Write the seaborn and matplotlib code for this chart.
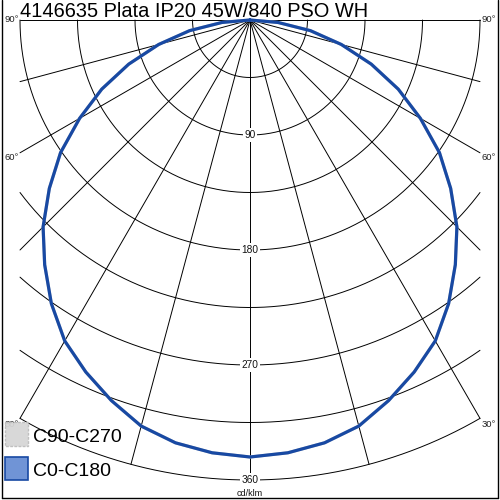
import numpy as np
import pandas as pd
import matplotlib
matplotlib.use("Agg")
import matplotlib.pyplot as plt
import seaborn as sns
from matplotlib.patches import Rectangle

# ---- data -------------------------------------------------------------
title = "4146635 Plata IP20 45W/840 PSO WH"
gamma = [0, 5, 10, 15, 20, 25, 30, 35, 40, 45, 50, 55, 60, 65, 70, 75, 80, 85, 90]
c0_c180 = [342, 340, 336, 329, 317, 304, 290, 271, 250, 229, 205, 181, 154, 128, 101, 74, 48, 22, 0]
c90_c270 = [342, 340, 336, 329, 317, 304, 290, 271, 250, 229, 205, 181, 154, 128, 101, 74, 48, 22, 0]
ring_values = [45, 90, 135, 180, 225, 270, 315, 360]
ring_labels = [90, 180, 270, 360]
radial_angles = [-90, -75, -60, -45, -30, -15, 0, 15, 30, 45, 60, 75, 90]
angle_labels = [30, 60, 90]
series_names = ["C90-C270", "C0-C180"]
unit = "cd/klm"

# ---- layout helpers (pixel -> data) -----------------------------------
S = 460 / 360.0
CX, CY = 250, 20
def X(px): return (px - CX) / S
def Y(py): return (py - CY) / S
XMAX = 180.0  # horizontal clip of the grid

sns.set_theme(style="white")
plt.rcParams["font.family"] = ["Liberation Sans", "DejaVu Sans"]

fig = plt.figure(figsize=(5, 5), dpi=100)
ax = fig.add_axes([0, 0, 1, 1])
ax.set_xlim(X(0), X(500))
ax.set_ylim(Y(500), Y(0))
ax.axis("off")

# rings
for r in ring_values:
    tmax = np.pi / 2 if r <= XMAX else np.arcsin(XMAX / r)
    t = np.linspace(-tmax, tmax, 400)
    ax.plot(r * np.sin(t), r * np.cos(t), color="black", lw=0.7, zorder=1)

# radials
for a in radial_angles:
    ar = np.radians(a)
    s = abs(np.sin(ar))
    L = 360 if s < 1e-9 else min(360, XMAX / s)
    ax.plot([0, L * np.sin(ar)], [0, L * np.cos(ar)], color="black", lw=0.7, zorder=1)

# angle labels
yoff = {90: 0, 60: 5, 30: 6}
for a in angle_labels:
    ar = np.radians(a)
    L = min(360, XMAX / np.sin(ar))
    ey = L * np.cos(ar) + yoff[a] / S
    ax.text(-XMAX - 1.5 / S, ey, f"{a}°", ha="right", va="center", fontsize=6.8, color="#222222", zorder=2)
    ax.text(XMAX + 1.5 / S, ey, f"{a}°", ha="left", va="center", fontsize=6.8, color="#222222", zorder=2)

# ring labels
for r in ring_labels:
    ax.text(0, r, f"{r}", ha="center", va="center", fontsize=7.3, color="#111111",
            bbox=dict(facecolor="white", edgecolor="none", pad=1.2), zorder=3)
ax.text(0, Y(493), unit, ha="center", va="center", fontsize=6.5, color="#111111", zorder=3)

# curves
def curve(vals):
    g = np.array(gamma, float)
    v = np.array(vals, float)
    ang = np.concatenate([-g[::-1], g[1:]])
    inten = np.concatenate([v[::-1], v[1:]])
    ar = np.radians(ang)
    return pd.DataFrame({"x": inten * np.sin(ar), "y": inten * np.cos(ar)})

d1 = curve(c90_c270)
d2 = curve(c0_c180)
sns.lineplot(data=d1, x="x", y="y", sort=False, estimator=None, ax=ax, color="#c8c8c8", lw=2.2, zorder=4)
sns.lineplot(data=d2, x="x", y="y", sort=False, estimator=None, ax=ax, color="#1849a3", lw=2.3, zorder=5)

# title
ax.text(X(20), Y(17), title, ha="left", va="baseline", fontsize=14.4, color="black", zorder=6)

# legend
ax.add_patch(Rectangle((X(5), Y(422)), 23 / S, 24 / S, facecolor="#d6d6d6", edgecolor="#bdbdbd",
                       lw=1.0, ls=(0, (2, 1)), alpha=0.95, zorder=6))
ax.add_patch(Rectangle((X(5), Y(457)), 23 / S, 23 / S, facecolor="#7094d6", edgecolor="#1849a3",
                       lw=1.2, zorder=6))
ax.text(X(33), Y(442), series_names[0], ha="left", va="baseline", fontsize=14, color="black", zorder=6)
ax.text(X(33), Y(476.5), series_names[1], ha="left", va="baseline", fontsize=14, color="black", zorder=6)

# frame
ax.plot([X(1.5), X(1.5)], [Y(0), Y(497.5)], color="black", lw=1.0, zorder=7)
ax.plot([X(497.5), X(497.5)], [Y(0), Y(497.5)], color="black", lw=1.0, zorder=7)
ax.plot([X(1.5), X(497.5)], [Y(497.5), Y(497.5)], color="black", lw=1.0, zorder=7)

fig.savefig("out.png", dpi=100)
